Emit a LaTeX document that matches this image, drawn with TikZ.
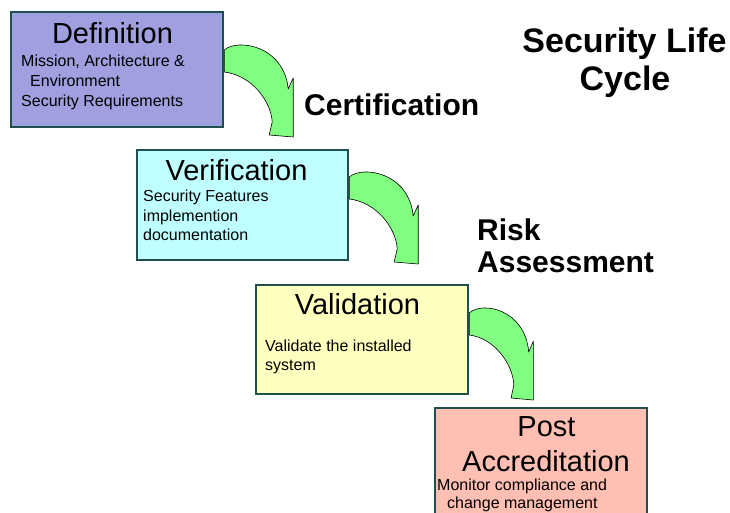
\documentclass[tikz,border=0pt]{standalone}
\usepackage{fontspec}
\setmainfont{Liberation Sans}
\pgfdeclarelayer{bg}
\pgfsetlayers{bg,main}
\definecolor{defc}{HTML}{A0A0E0}
\definecolor{verc}{HTML}{C0FFFF}
\definecolor{valc}{HTML}{FFFFC0}
\definecolor{postc}{HTML}{FFBFB3}
\definecolor{bordc}{HTML}{1F4F4F}
\definecolor{arrc}{HTML}{80FF80}
\tikzset{
  box/.style={draw=bordc, line width=2.2pt, inner sep=0pt, anchor=north west},
  titletext/.style={inner sep=0pt, anchor=base, font=\fontsize{29}{35}\selectfont},
  bodytext/.style={inner sep=0pt, anchor=base west, font=\fontsize{16}{19}\selectfont},
  headtext/.style={inner sep=0pt, font=\bfseries\fontsize{30}{33}\selectfont},
  bigtext/.style={inner sep=0pt, anchor=base, font=\bfseries\fontsize{34}{38}\selectfont},
  arrowstyle/.style={fill=arrc, draw=black, line width=0.6pt, line join=round},
  bigarrow/.pic={
    \draw[arrowstyle] (0,0) .. controls (14,-12) and (60,-4) .. (64,39)
      -- (69,28) -- (69,87) -- (45,85) -- (48,72)
      .. controls (47,51) and (27,25) .. (0,22) -- cycle;
  }
}
\begin{document}
\begin{tikzpicture}[x=1pt,y=-1pt]
\useasboundingbox (0,0) rectangle (730,512);
% boxes
\node[box, fill=defc, minimum width=211.5pt, minimum height=115pt] (def) at (10,11) {};
\node[box, fill=verc, minimum width=211pt, minimum height=109.5pt] (ver) at (136,149) {};
\node[box, fill=valc, minimum width=212pt, minimum height=109pt] (val) at (254.5,283.5) {};
\node[box, fill=postc, minimum width=212pt, minimum height=130pt] (post) at (433.5,406.5) {};
% arrows behind boxes
\begin{pgfonlayer}{bg}
\path (def.north east) ++(0.5,39) pic {bigarrow};
\path (ver.north east) ++(0,28) pic {bigarrow};
\path (val.north east) ++(0.5,29.5) pic[xscale=0.93] {bigarrow};
\end{pgfonlayer}
% texts in boxes
\node[titletext] (deft) at (112.5,43) {Definition};
\node[bodytext] (defa) at (21,66.5) {Mission, Architecture \&};
\node[bodytext] (defb) at (30,86.5) {Environment};
\node[bodytext] (defc) at (21,106.5) {Security Requirements};
\node[titletext] (vert) at (236.5,180) {Verification};
\node[bodytext] (vera) at (143,201.5) {Security Features};
\node[bodytext] (verb) at (143,221) {implemention};
\node[bodytext] (verc) at (143,240.5) {documentation};
\node[titletext] (valt) at (357.5,314) {Validation};
\node[bodytext] (vala) at (265,351) {Validate the installed};
\node[bodytext] (valb) at (265,370) {system};
\node[titletext] (postt) at (546.5,436) {Post};
\node[titletext] (postu) at (546,471) {Accreditation};
\node[bodytext] (posta) at (437,490) {Monitor compliance and};
\node[bodytext] (postb) at (447,508) {change management};
% headings
\node[bigtext] (slc1) at (624.5,52) {Security Life};
\node[bigtext] (slc2) at (625,90) {Cycle};
\node[headtext, anchor=base west] (cert) at (304,115) {Certification};
\node[headtext, anchor=base west] (risk1) at (477,240) {Risk};
\node[headtext, anchor=base west] (risk2) at (477,272) {Assessment};
\end{tikzpicture}
\end{document}
